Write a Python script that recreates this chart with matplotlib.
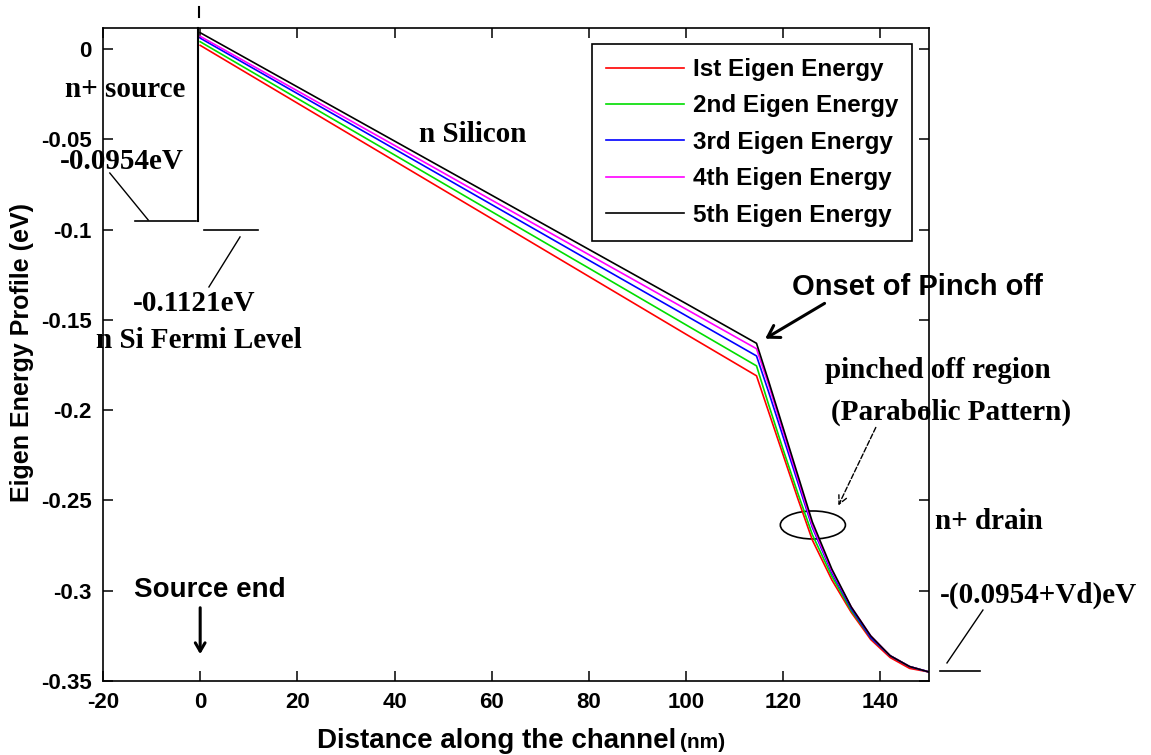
import matplotlib
matplotlib.use("Agg")
import matplotlib.pyplot as plt
from matplotlib.patches import Ellipse

plt.rcParams["font.family"] = ["Liberation Sans", "DejaVu Sans"]
plt.rcParams["axes.unicode_minus"] = False

# distance along the channel (nm)
x_nm = [0, 20, 40, 60, 80, 100, 114.5, 117, 120, 123, 126, 130, 134, 138, 142, 146, 150]

# eigen energy profiles (eV)
e1 = [0.002, -0.030, -0.062, -0.094, -0.126, -0.158, -0.181, -0.201, -0.225, -0.249,
      -0.272, -0.294, -0.312, -0.327, -0.337, -0.343, -0.345]
e2 = [0.004, -0.0274, -0.0587, -0.0901, -0.1214, -0.1528, -0.1755, -0.197, -0.222, -0.246,
      -0.269, -0.292, -0.311, -0.326, -0.336, -0.342, -0.345]
e3 = [0.006, -0.0247, -0.0554, -0.0862, -0.1170, -0.1477, -0.170, -0.190, -0.215, -0.240,
      -0.265, -0.290, -0.310, -0.326, -0.336, -0.342, -0.345]
e4 = [0.007, -0.0232, -0.0534, -0.0837, -0.1139, -0.1441, -0.166, -0.186, -0.212, -0.238,
      -0.264, -0.289, -0.309, -0.325, -0.336, -0.342, -0.345]
e5 = [0.009, -0.0210, -0.0510, -0.0810, -0.1110, -0.1410, -0.163, -0.184, -0.210, -0.236,
      -0.262, -0.288, -0.309, -0.325, -0.336, -0.342, -0.345]

series = [e1, e2, e3, e4, e5]
labels = ["Ist Eigen Energy", "2nd Eigen Energy", "3rd Eigen Energy",
          "4th Eigen Energy", "5th Eigen Energy"]
colors = ["#ff0000", "#00dd00", "#0000ff", "#ff00ff", "#000000"]

x_ticks = [-20, 0, 20, 40, 60, 80, 100, 120, 140]
x_ticklabels = ["-20", "0", "20", "40", "60", "80", "100", "120", "140"]
y_ticks = [0, -0.05, -0.1, -0.15, -0.2, -0.25, -0.3, -0.35]
y_ticklabels = ["0", "-0.05", "-0.1", "-0.15", "-0.2", "-0.25", "-0.3", "-0.35"]

SERIF = "Liberation Serif"
SZ = 21

fig = plt.figure(figsize=(11.51, 7.55), dpi=100)
ax = fig.add_axes([103 / 1151, 1 - 681 / 755, 826 / 1151, 653 / 755])

for y, lab, c in zip(series, labels, colors):
    ax.plot(x_nm, y, color=c, lw=1.2, label=lab)

ax.set_xlim(-20, 150)
ax.set_ylim(-0.35, 0.0116)
ax.set_xticks(x_ticks)
ax.set_xticklabels(x_ticklabels)
ax.set_yticks(y_ticks)
ax.set_yticklabels(y_ticklabels)
ax.tick_params(direction="in", length=7, width=1.1, top=True, right=True,
               labelsize=16, pad=8)
for lbl in ax.get_xticklabels() + ax.get_yticklabels():
    lbl.set_fontweight("bold")
for sp in ax.spines.values():
    sp.set_linewidth(1.2)

leg = ax.legend(loc="upper right", bbox_to_anchor=(0.9794, 0.9755), borderaxespad=0,
                fancybox=False, framealpha=1, edgecolor="black",
                prop={"weight": "bold", "size": 17.5}, handlelength=3.2,
                handletextpad=0.35, labelspacing=0.55, borderpad=0.58)
leg.get_frame().set_linewidth(1.2)

# axis labels
fig.text(22 / 1151, 1 - 352 / 755, "Eigen Energy Profile (eV)", rotation=90,
         ha="center", va="center", fontsize=18, fontweight="bold")
fig.text(676 / 1151, 1 - 748 / 755, "Distance along the channel", ha="right",
         va="baseline", fontsize=20, fontweight="bold")
fig.text(680 / 1151, 1 - 748 / 755, "(nm)", ha="left", va="baseline",
         fontsize=15, fontweight="bold")

# source side annotations
kw = dict(color="black", clip_on=False)
ax.plot([-0.4, -0.4], [0.0116, -0.0954], lw=1.5, **kw)
ax.plot([-0.2, -0.2], [0.0232, 0.0177], lw=1.5, **kw)
ax.plot([-13.4, -0.9], [-0.0954, -0.0954], lw=1.2, **kw)
ax.plot([-18.6, -10.7], [-0.0687, -0.0947], lw=1.0, **kw)
ax.plot([0.8, 11.9], [-0.1002, -0.1002], lw=1.2, **kw)
ax.plot([8.2, 1.8], [-0.1041, -0.1318], lw=1.0, **kw)

ax.text(-27.8, -0.0227, "n+ source", family=SERIF, fontweight="bold", fontsize=SZ,
        ha="left", va="center", clip_on=False)
ax.text(-28.9, -0.0626, "-0.0954eV", family=SERIF, fontweight="bold", fontsize=SZ,
        ha="left", va="center", clip_on=False)
ax.text(-1.3, -0.1407, "-0.1121eV", family=SERIF, fontweight="bold", fontsize=SZ,
        ha="center", va="center", clip_on=False)
ax.text(-0.2, -0.1612, "n Si Fermi Level", family=SERIF, fontweight="bold", fontsize=SZ,
        ha="center", va="center", clip_on=False)
ax.text(56.0, -0.0476, "n Silicon", family=SERIF, fontweight="bold", fontsize=SZ,
        ha="center", va="center")

# pinch off annotations
ax.text(147.6, -0.1318, "Onset of Pinch off", fontweight="bold", fontsize=21,
        ha="center", va="center", clip_on=False)
ax.annotate("", xy=(115.8, -0.1612), xytext=(129.0, -0.1401), annotation_clip=False,
            arrowprops=dict(arrowstyle="->,head_length=0.8,head_width=0.5",
                            lw=2.2, color="black"))
ax.text(151.9, -0.1778, "pinched off region", family=SERIF, fontweight="bold",
        fontsize=SZ, ha="center", va="center", clip_on=False)
ax.text(154.6, -0.2010, "(Parabolic Pattern)", family=SERIF, fontweight="bold",
        fontsize=SZ, ha="center", va="center", clip_on=False)
ax.annotate("", xy=(131.1, -0.2542), xytext=(139.3, -0.2082), annotation_clip=False,
            arrowprops=dict(arrowstyle="->,head_length=0.6,head_width=0.3",
                            lw=1.0, ls="--", color="black"))
ax.add_patch(Ellipse((126.1, -0.2636), 13.4, 0.0155, fill=False, lw=1.2,
                     edgecolor="black"))

# drain side annotations
ax.text(151.2, -0.2619, "n+ drain", family=SERIF, fontweight="bold", fontsize=SZ,
        ha="left", va="center", clip_on=False)
ax.text(152.2, -0.3024, "-(0.0954+Vd)eV", family=SERIF, fontweight="bold", fontsize=SZ,
        ha="left", va="center", clip_on=False)
ax.plot([161.1, 153.7], [-0.3107, -0.3400], lw=1.0, **kw)
ax.plot([152.2, 160.5], [-0.3445, -0.3445], lw=1.2, **kw)

# source end
ax.text(2.0, -0.2996, "Source end", fontweight="bold", fontsize=20,
        ha="center", va="center")
ax.annotate("", xy=(0, -0.3367), xytext=(0, -0.3079),
            arrowprops=dict(arrowstyle="->,head_length=0.6,head_width=0.35",
                            lw=2.2, color="black"))

fig.savefig("out.png", dpi=100)
